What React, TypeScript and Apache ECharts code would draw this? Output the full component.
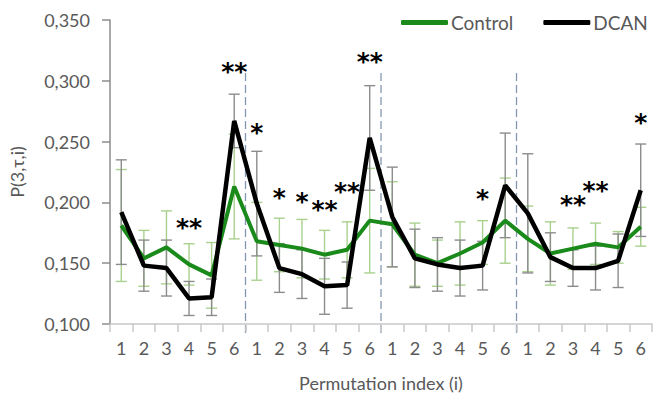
import React, { useEffect, useRef } from "react";
import * as echarts from "echarts";

const categories = [
  "1", "2", "3", "4", "5", "6",
  "1", "2", "3", "4", "5", "6",
  "1", "2", "3", "4", "5", "6",
  "1", "2", "3", "4", "5", "6",
];

const control = [0.181, 0.154, 0.163, 0.149, 0.140, 0.213, 0.168, 0.165, 0.162, 0.157, 0.161, 0.185, 0.182, 0.157, 0.150, 0.158, 0.167, 0.185, 0.170, 0.158, 0.162, 0.166, 0.163, 0.180];
const controlErr = [0.046, 0.023, 0.030, 0.017, 0.027, 0.043, 0.032, 0.022, 0.024, 0.020, 0.023, 0.043, 0.035, 0.026, 0.019, 0.026, 0.018, 0.035, 0.027, 0.026, 0.017, 0.017, 0.013, 0.016];
const dcan = [0.192, 0.148, 0.146, 0.121, 0.122, 0.267, 0.199, 0.146, 0.141, 0.131, 0.132, 0.253, 0.188, 0.154, 0.149, 0.146, 0.148, 0.214, 0.191, 0.155, 0.146, 0.146, 0.152, 0.210];
const dcanErr = [0.043, 0.021, 0.023, 0.014, 0.015, 0.022, 0.043, 0.020, 0.020, 0.023, 0.019, 0.043, 0.041, 0.024, 0.022, 0.023, 0.020, 0.043, 0.049, 0.020, 0.015, 0.018, 0.022, 0.038];

// significance marks: [category index, value level, text]
const starIdx = [3, 5, 6, 7, 8, 9, 10, 11, 16, 20, 21, 23];
const starLevel = [0.1833, 0.3116, 0.2614, 0.208, 0.2047, 0.1979, 0.2129, 0.3198, 0.2075, 0.202, 0.2137, 0.270];
const starText = ["**", "**", "*", "*", "*", "**", "**", "**", "*", "**", "**", "*"];

// group boundaries (before category index) and top level of the dashed line
const dividerIdx = [6, 12, 18];
const dividerTop = 0.3064;

const FONT = "Lato, 'Open Sans', sans-serif";

function errorSeries(name: string, vals: number[], errs: number[], color: string) {
  return {
    type: "custom",
    name: name + "_err",
    z: 1,
    silent: true,
    data: vals.map((v, i) => [i, v - errs[i], v + errs[i]]),
    encode: { x: 0, y: [1, 2] },
    renderItem: (params: any, api: any) => {
      const x = api.value(0);
      const lo = api.value(1);
      const hi = api.value(2);
      const p1 = api.coord([x, hi]);
      const p2 = api.coord([x, lo]);
      const w = 5.5;
      const style = { stroke: color, lineWidth: 1.4 };
      return {
        type: "group",
        children: [
          { type: "line", shape: { x1: p1[0], y1: p1[1], x2: p2[0], y2: p2[1] }, style },
          { type: "line", shape: { x1: p1[0] - w, y1: p1[1], x2: p1[0] + w, y2: p1[1] }, style },
          { type: "line", shape: { x1: p2[0] - w, y1: p2[1], x2: p2[0] + w, y2: p2[1] }, style },
        ],
      };
    },
  };
}

export default function App() {
  const ref = useRef<HTMLDivElement>(null);

  useEffect(() => {
    document.body.style.margin = "0";
    if (!ref.current) return;
    const chart = echarts.init(ref.current, null, { renderer: "svg" });
    const option: any = {
      animation: false,
      backgroundColor: "#ffffff",
      grid: { left: 110, right: 6, top: 20, bottom: 70, containLabel: false, outerBoundsMode: "none" },
      legend: {
        left: 396,
        top: 8,
        itemWidth: 47,
        itemHeight: 5,
        itemGap: 30,
        icon: "roundRect",
        textStyle: { fontFamily: FONT, fontSize: 19, color: "#595959", padding: [0, 0, 0, -2] },
        data: [
          { name: "Control", itemStyle: { color: "#1a8a1a" } },
          { name: "DCAN", itemStyle: { color: "#000000" } },
        ],
      },
      xAxis: {
        type: "category",
        data: categories,
        boundaryGap: true,
        name: "Permutation index (i)",
        nameLocation: "middle",
        nameGap: 50,
        nameTextStyle: { fontFamily: FONT, fontSize: 18, color: "#595959" },
        axisLine: { show: true, lineStyle: { color: "#c8c8c8", width: 1.5 } },
        axisTick: { show: true, length: 8, alignWithLabel: false, lineStyle: { color: "#c8c8c8", width: 1.5 } },
        axisLabel: { fontFamily: FONT, fontSize: 18, color: "#595959", margin: 15, interval: 0 },
        splitLine: { show: false },
      },
      yAxis: {
        type: "value",
        min: 0.1,
        max: 0.35,
        interval: 0.05,
        name: "P(3,τ,i)",
        nameLocation: "middle",
        nameGap: 84,
        nameTextStyle: { fontFamily: FONT, fontSize: 18, color: "#595959" },
        axisLine: { show: true, lineStyle: { color: "#8c8c8c", width: 1.5 } },
        axisTick: { show: true, length: 8, lineStyle: { color: "#8c8c8c", width: 1.5 } },
        axisLabel: {
          fontFamily: FONT,
          fontSize: 18,
          color: "#595959",
          margin: 20,
          formatter: (v: number) => v.toFixed(3).replace(".", ","),
        },
        splitLine: { show: false },
      },
      series: [
        errorSeries("Control", control, controlErr, "#a9d18e"),
        errorSeries("DCAN", dcan, dcanErr, "#8c8c8c"),
        {
          type: "custom",
          name: "dividers",
          silent: true,
          z: 0,
          data: dividerIdx.map((d) => [d, dividerTop]),
          encode: { x: 0, y: 1 },
          renderItem: (params: any, api: any) => {
            const idx = api.value(0);
            const a = api.coord([idx - 1, dividerTop]);
            const b = api.coord([idx, dividerTop]);
            const base = api.coord([idx, 0.1]);
            const x = (a[0] + b[0]) / 2;
            return {
              type: "line",
              shape: { x1: x, y1: a[1], x2: x, y2: base[1] + 11 },
              style: { stroke: "#8497b0", lineWidth: 1.3, lineDash: [8, 4] },
            };
          },
        },
        {
          name: "Control",
          type: "line",
          data: control,
          showSymbol: false,
          symbol: "none",
          z: 3,
          lineStyle: { color: "#1a8a1a", width: 4 },
          itemStyle: { color: "#1a8a1a" },
        },
        {
          name: "DCAN",
          type: "line",
          data: dcan,
          showSymbol: false,
          symbol: "none",
          z: 4,
          lineStyle: { color: "#000000", width: 4.5 },
          itemStyle: { color: "#000000" },
        },
        {
          type: "custom",
          name: "stars",
          silent: true,
          z: 5,
          data: starIdx.map((i, k) => [i, starLevel[k], k]),
          encode: { x: 0, y: 1 },
          renderItem: (params: any, api: any) => {
            const p = api.coord([api.value(0), api.value(1)]);
            const k = api.value(2);
            return {
              type: "text",
              x: p[0],
              y: p[1] + 5,
              style: {
                text: starText[k],
                fill: "#000000",
                font: "bold 25px 'DejaVu Sans', sans-serif",
                align: "center",
                verticalAlign: "middle",
              },
            };
          },
        },
      ],
    };
    chart.setOption(option);
    return () => chart.dispose();
  }, []);

  return <div ref={ref} style={{ width: 658, height: 394 }} />;
}
